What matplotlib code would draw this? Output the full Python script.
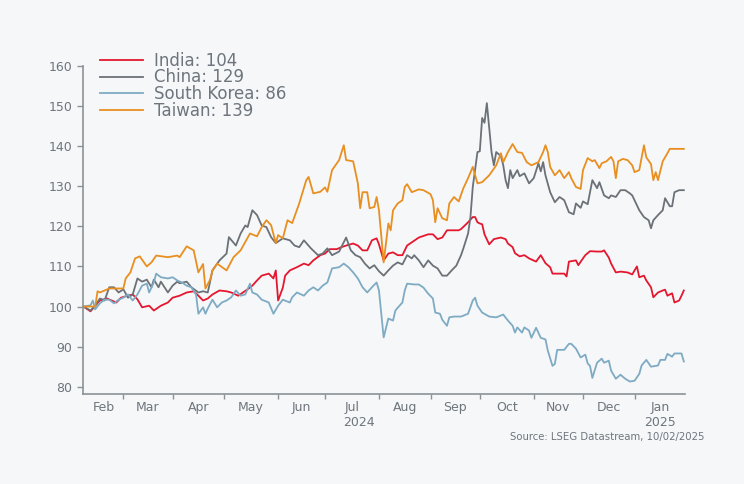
import numpy as np
import pandas as pd
import matplotlib
matplotlib.use("Agg")
import matplotlib.pyplot as plt
import matplotlib.transforms as mtransforms

plt.rcParams["font.family"] = ["DejaVu Sans"]

# Trading days since rebase (2024-02-07 = 0) and rebased index values
india_day = [0, 3, 5, 7, 10, 12, 14, 16, 19, 21, 23, 25, 28, 30, 33, 36, 38, 41, 44, 47, 49, 51, 53, 55,
             58, 61, 63, 66, 68, 70, 72, 74, 76, 79, 81, 82, 83, 85, 86, 88, 91, 94, 96, 98, 101, 103,
             105, 108, 110, 112, 115, 117, 119, 121, 123, 125, 126, 128, 130, 132, 134, 136, 138, 140,
             143, 147, 149, 151, 153, 155, 158, 160, 161, 164, 166, 167, 168, 169, 170, 171, 173, 175,
             178, 180, 181, 183, 184, 186, 188, 190, 193, 195, 197, 199, 200, 202, 205, 206, 207, 210,
             211, 213, 214, 216, 219, 221, 222, 224, 225, 227, 229, 232, 234, 236, 237, 239, 240, 242,
             243, 245, 247, 248, 249, 251, 252, 254, 255, 256]
india_val = [100, 98.8, 100.2, 101.5, 102, 101.5, 101, 102.2, 102.7, 103, 101.8, 99.8, 100.2, 99, 100.2,
             101, 102.2, 102.7, 103.5, 103.8, 102.7, 101.5, 102, 103, 104, 103.8, 103.5, 102.7, 103.5,
             104.3, 105.2, 106.5, 107.7, 108.2, 107, 109, 101.5, 104.7, 107.7, 109, 109.8, 110.7, 110.3,
             111.5, 112.8, 113.2, 114.3, 114.3, 114.8, 115.2, 115.7, 115.2, 114, 114, 116.5, 117, 115.5,
             111.5, 113.2, 113.5, 112.8, 112.8, 115.2, 116, 117.2, 118, 118, 116.8, 117.2, 119, 119, 119,
             119.3, 121, 122.3, 122.3, 121, 120.7, 120.5, 118, 115.5, 116.8, 117.2, 116.8, 115.7, 114.8,
             113.3, 112.5, 112.8, 112, 111.2, 112.8, 110.8, 109.8, 108.2, 108.2, 108.2, 107.5, 111.2,
             111.5, 110.3, 112, 112.8, 113.8, 113.7, 113.7, 114, 112.2, 110.7, 108.5, 108.7, 108.5, 108,
             110, 107.3, 107.7, 106.5, 104.8, 102.3, 103.5, 104, 104.2, 102.7, 103.3, 101, 101.5, 102.7,
             104]

china_day = [0, 3, 5, 7, 9, 11, 13, 15, 17, 19, 21, 23, 25, 27, 29, 30, 32, 33, 36, 38, 40, 41, 44, 46,
             49, 51, 53, 55, 58, 61, 62, 65, 67, 69, 70, 72, 74, 76, 78, 80, 82, 85, 88, 90, 92, 94, 97,
             100, 102, 104, 106, 109, 112, 114, 116, 118, 120, 122, 124, 126, 128, 130, 132, 134, 136,
             138, 140, 141, 143, 145, 147, 149, 151, 153, 155, 157, 159, 161, 162, 164, 165, 166, 168,
             169, 170, 171, 172, 174, 175, 176, 178, 179, 180, 181, 182, 183, 185, 186, 188, 190, 192,
             194, 195, 196, 197, 199, 201, 203, 205, 207, 209, 210, 212, 213, 215, 217, 219, 220, 222,
             224, 225, 227, 229, 231, 233, 234, 236, 237, 239, 241, 242, 243, 245, 247, 248, 250, 251,
             252, 254, 256]
china_val = [100, 99, 100.2, 102, 101.5, 104.8, 104.8, 103.5, 104.3, 102.2, 103, 107, 106.2, 106.7, 104.8,
             106.7, 104.8, 106.2, 103.5, 105.2, 106.2, 105.8, 106.2, 104.8, 103.5, 103.8, 103.5, 109,
             111.5, 113.2, 117.3, 115.2, 118.2, 120.2, 119.8, 124, 122.8, 120.2, 119.8, 117.3, 115.8, 117,
             116.5, 115.2, 114.8, 116.5, 114.5, 112.8, 113.2, 114.5, 112.8, 113.7, 117.2, 114, 112.8,
             112.3, 110.7, 109.5, 110.3, 108.8, 107.7, 109, 110.2, 111, 110.5, 112.8, 112, 112.8, 111.5,
             109.8, 111.5, 110.2, 109.5, 107.7, 107.7, 109, 110.2, 112.8, 114.5, 118.2, 122.2, 129.8,
             138.5, 138.7, 147, 145.8, 150.7, 138.5, 135.2, 138.5, 137.5, 135.2, 131.5, 129.5, 134, 132,
             134, 132.5, 133.2, 130.7, 132, 135.7, 133.7, 136, 132.7, 128.5, 126, 127.3, 126.5, 123.5,
             123, 125.7, 124.6, 126.2, 125.5, 131.5, 129.5, 131, 127.7, 127, 127.7, 127.3, 129, 129,
             128.2, 127.7, 125.2, 124, 122.3, 121.5, 119.5, 121.5, 122.8, 124, 127, 125, 125, 128.5, 129,
             129]

korea_day = [0, 3, 4, 5, 7, 9, 11, 13, 15, 17, 19, 21, 23, 25, 27, 28, 30, 31, 33, 36, 38, 40, 42, 44,
             46, 48, 49, 51, 52, 53, 55, 57, 59, 61, 63, 65, 67, 69, 71, 72, 74, 76, 79, 81, 83, 85, 88,
             89, 91, 94, 96, 98, 100, 102, 104, 106, 109, 111, 113, 115, 117, 119, 121, 123, 125, 126,
             128, 130, 132, 133, 134, 136, 137, 138, 141, 143, 145, 147, 149, 150, 152, 153, 155, 156,
             158, 161, 164, 166, 167, 168, 170, 173, 176, 179, 181, 183, 184, 185, 187, 188, 190, 191,
             193, 195, 197, 198, 200, 201, 202, 205, 207, 208, 210, 212, 214, 215, 216, 217, 219, 221,
             222, 224, 225, 227, 229, 231, 233, 235, 237, 238, 240, 242, 245, 246, 248, 249, 251, 252,
             255, 256]
korea_val = [100, 100.3, 101.5, 99.3, 100.8, 101.7, 101.7, 100.8, 101.7, 102.2, 103, 101.5, 103, 105.2,
             105.7, 103.5, 106, 108.2, 107.3, 107, 107.3, 106.5, 106, 105.2, 104.8, 103, 98.2, 99.8, 98.2,
             99.5, 101.7, 99.8, 101, 101.5, 102.3, 104, 102.7, 103, 105.7, 103.5, 103, 101.7, 101, 98.2,
             100.2, 101.7, 101, 102.3, 103.5, 102.7, 104, 104.8, 104, 105.2, 106, 109.5, 109.8, 110.7,
             109.8, 108.5, 107, 104.8, 103.5, 104.8, 106, 104, 92.3, 97, 96.5, 99, 99.7, 101, 104, 105.7,
             105.5, 105.5, 104.7, 103.2, 102, 98.5, 98.2, 96.7, 95.2, 97.3, 97.5, 97.5, 98.2, 101.5,
             102.2, 100.2, 98.5, 97.5, 97.3, 98, 96.5, 95.2, 93.5, 94.8, 93.5, 94.8, 94, 92.2, 94.7,
             92.2, 91.8, 89, 85.2, 85.7, 89.2, 89.2, 90.7, 90.7, 89.5, 87.3, 88, 85.8, 85.2, 82.2, 86, 87,
             86, 86.5, 84, 82, 83, 82, 81.3, 81.5, 83.2, 85.3, 86.7, 85, 85.3, 86.7, 86.7, 88.2, 87.5,
             88.3, 88.3, 86.3]

taiwan_day = [0, 5, 6, 7, 11, 13, 17, 18, 20, 22, 24, 27, 29, 31, 36, 40, 41, 44, 47, 49, 51, 52, 54,
              55, 57, 61, 64, 67, 71, 74, 76, 78, 80, 82, 83, 85, 87, 89, 92, 95, 96, 98, 101, 103, 104,
              106, 109, 111, 112, 115, 117, 118, 119, 121, 122, 124, 125, 126, 128, 130, 131, 132, 134,
              136, 137, 138, 140, 143, 145, 148, 149, 150, 151, 153, 155, 156, 158, 160, 162, 164, 166,
              168, 170, 173, 176, 178, 179, 181, 183, 185, 187, 189, 191, 194, 196, 197, 198, 199, 201,
              203, 205, 207, 208, 210, 212, 213, 215, 217, 218, 220, 221, 223, 225, 226, 227, 228, 230,
              232, 234, 235, 237, 239, 240, 242, 243, 244, 245, 247, 249, 250, 253, 256]
taiwan_val = [100, 100, 103.8, 103.5, 104.5, 104.5, 104.5, 107, 108.5, 112, 112.5, 110, 111, 112.7, 112.3,
              112.7, 112.3, 115, 114, 108.5, 110.6, 104.5, 106.7, 109, 110.7, 109, 112.3, 114, 118.2,
              117.5, 119.8, 121.5, 120.3, 115.8, 117.8, 117, 121.5, 120.8, 125.7, 131.5, 132.3, 128.2,
              128.6, 129.7, 128.6, 134, 136.5, 140.2, 136.5, 136.2, 130.7, 124.5, 128.5, 128.5, 124.5,
              124.8, 127.3, 124, 111, 120.7, 119, 124, 125.7, 126.5, 129.8, 130.5, 128.5, 129.2, 129,
              128, 126.5, 121, 124.5, 122, 121.5, 125.7, 127.3, 126.2, 129.5, 132, 134.8, 130.7, 131,
              132.7, 135.2, 138.2, 136, 138.5, 140.5, 138.5, 138.3, 136, 135.2, 136, 138.5, 140.2, 138.5,
              134.8, 132.7, 134, 132, 133.5, 132, 129.8, 129.3, 134, 137, 136.2, 136.5, 134.5, 135.7,
              136.2, 137.3, 136.2, 132, 136.2, 136.8, 136.5, 135.2, 133.5, 134, 140.2, 137.2, 135.5,
              131.5, 133.5, 131.5, 136.2, 138.2, 139.3, 139.3, 139.3]

names = ["India", "China", "South Korea", "Taiwan"]
colors = ["#e5172f", "#6b7177", "#7eabc3", "#e98f1f"]

dates = pd.bdate_range("2024-02-07", periods=257)
txt = "#6e757c"
bg = "#f5f7f9"

fig = plt.figure(figsize=(7.44, 4.84), dpi=100, facecolor=bg)
ax = fig.add_axes([0.1122, 0.186, 0.8085, 0.678])
ax.set_facecolor(bg)

series = [(india_day, india_val), (china_day, china_val), (korea_day, korea_val), (taiwan_day, taiwan_val)]
for (d, v), name, c in zip(series, names, colors):
    ax.plot(d, v, color=c, lw=1.3, label=f"{name}: {round(v[-1])}")

ax.set_xlim(0, 256.5)
ax.set_ylim(78.2, 160)
ax.set_yticks(range(80, 161, 10))

# month ticks at the first trading day of each month, labels centred in each month
starts = pd.Series(np.arange(len(dates)), index=dates).groupby([dates.year, dates.month]).min()
bounds = list(starts.values) + [256.5]
ax.set_xticks(bounds[1:-1])
ax.set_xticklabels([])
mids = [(a + b) / 2 for a, b in zip(bounds[:-1], bounds[1:])]
ax.set_xticks(mids, minor=True)
ax.set_xticklabels([dates[s].strftime("%b") for s in starts.values], minor=True)
ax.tick_params(axis="x", which="minor", length=0, pad=5, labelsize=9, labelcolor=txt)
ax.tick_params(axis="x", which="major", length=3.5, width=1, color="#8c9196")
ax.tick_params(axis="y", length=4, width=1, color="#8c9196", labelsize=9, labelcolor=txt, pad=4)

# year labels centred under each year's span
trans = mtransforms.blended_transform_factory(ax.transData, ax.transAxes)
jan = starts.values[-1]
ax.text((0 + jan) / 2, -0.066, "2024", transform=trans, ha="center", va="top", fontsize=9, color=txt)
ax.text((jan + 256.5) / 2, -0.066, "2025", transform=trans, ha="center", va="top", fontsize=9, color=txt)

for s in ["top", "right"]:
    ax.spines[s].set_visible(False)
for s in ["left", "bottom"]:
    ax.spines[s].set_color("#8c9196")
    ax.spines[s].set_linewidth(1.2)

leg = fig.legend(loc="upper left", bbox_to_anchor=(0.134, 0.893), frameon=False, fontsize=12,
                 handlelength=2.6, handletextpad=0.66, labelspacing=-0.08, borderpad=0, borderaxespad=0)
for t in leg.get_texts():
    t.set_color(txt)

fig.text(0.947, 0.097, "Source: LSEG Datastream, 10/02/2025", ha="right", va="center", fontsize=7.3,
         color=txt)

fig.savefig("out.png", dpi=100, facecolor=bg)
